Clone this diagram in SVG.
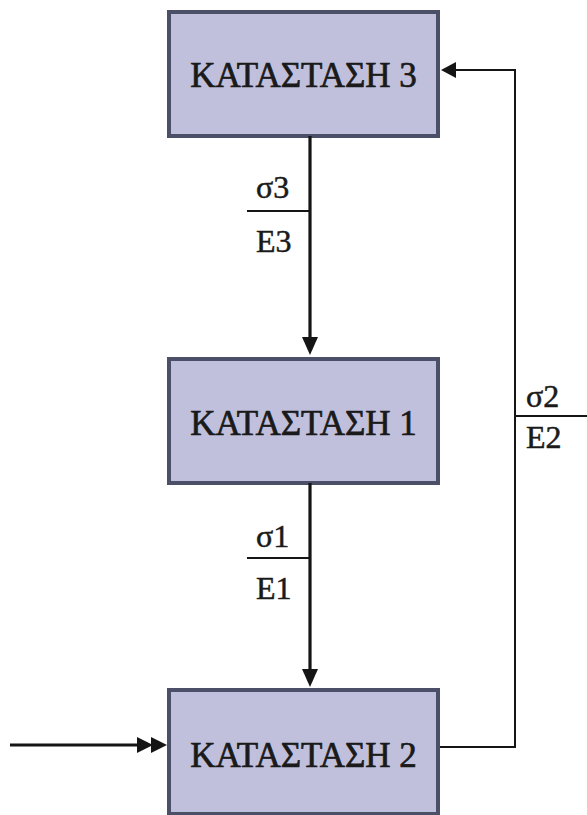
<svg xmlns="http://www.w3.org/2000/svg" width="587" height="815" viewBox="0 0 587 815">
  <style>
    .state rect { fill: #c0c0dd; stroke: #4b5068; stroke-width: 4; }
    .state text { font-family: "Liberation Serif", "Times New Roman", serif; font-size: 35px; fill: #1a1a1a; stroke: #1a1a1a; stroke-width: 0.7; text-anchor: middle; }
    .lbl { font-family: "Liberation Serif", "Times New Roman", serif; font-size: 32px; fill: #1a1a1a; stroke: #1a1a1a; stroke-width: 0.5; }
    .thick { stroke: #151515; stroke-width: 3.2; fill: none; }
    .thin { stroke: #151515; stroke-width: 2; fill: none; }
    .head { fill: #151515; }
  </style>
  <rect width="587" height="815" fill="#ffffff"/>

  <!-- states -->
  <g id="state3" class="state">
    <rect x="169" y="12" width="269" height="124"/>
    <text x="303.5" y="87">ΚΑΤΑΣΤΑΣΗ 3</text>
  </g>
  <g id="state1" class="state">
    <rect x="169" y="359" width="269" height="124"/>
    <text x="303.5" y="435">ΚΑΤΑΣΤΑΣΗ 1</text>
  </g>
  <g id="state2" class="state">
    <rect x="169" y="690" width="269" height="124"/>
    <text x="303.5" y="767">ΚΑΤΑΣΤΑΣΗ 2</text>
  </g>

  <!-- transitions -->
  <g id="connectors">
    <!-- state 3 -> state 1 -->
    <line class="thick" x1="310" y1="136" x2="310" y2="340"/>
    <polygon class="head" points="302,337 318,337 310,355"/>
    <line class="thin" x1="247" y1="211" x2="310" y2="211"/>

    <!-- state 1 -> state 2 -->
    <line class="thick" x1="310" y1="483" x2="310" y2="672"/>
    <polygon class="head" points="302,669 318,669 310,687"/>
    <line class="thin" x1="247" y1="558" x2="310" y2="558"/>

    <!-- state 2 -> state 3 (feedback) -->
    <polyline class="thin" points="440,747 515,747 515,70 452,70"/>
    <polygon class="head" points="441,70 456,62 456,78"/>
    <line class="thin" x1="515" y1="416" x2="587" y2="416"/>

    <!-- initial entry -->
    <line class="thick" x1="10" y1="745" x2="140" y2="745"/>
    <polygon class="head" points="137,737 153,745 137,753"/>
    <polygon class="head" points="151,737 167,745 151,753"/>
  </g>

  <!-- transition labels -->
  <g id="labels">
    <text class="lbl" x="256" y="198">σ3</text>
    <text class="lbl" x="256" y="252">E3</text>
    <text class="lbl" x="256" y="547">σ1</text>
    <text class="lbl" x="256" y="599">E1</text>
    <text class="lbl" x="526" y="407">σ2</text>
    <text class="lbl" x="526" y="448">E2</text>
  </g>
</svg>
